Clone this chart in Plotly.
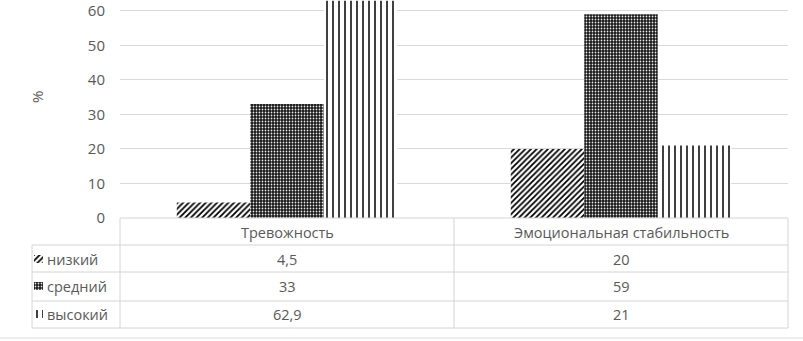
import plotly.graph_objects as go

categories = ["Тревожность", "Эмоциональная стабильность"]
series_names = ["низкий", "средний", "высокий"]
low_vals = [4.5, 20]
mid_vals = [33, 59]
high_vals = [62.9, 21]
value_labels = [["4,5", "20"], ["33", "59"], ["62,9", "21"]]
y_ticks = [0, 10, 20, 30, 40, 50, 60]

W, H = 803, 341
FONT = "Open Sans"
TXT = "#595959"
BORDER = "#d4d4d4"

def px(x):
    return x / W

def py(y):
    return (H - y) / H

patterns = [
    dict(shape="/", fgcolor="black", bgcolor="white", size=4, solidity=0.45, fillmode="replace"),
    dict(shape=".", fgcolor="#e8e8e8", bgcolor="#151515", size=3, solidity=0.28, fillmode="replace"),
    dict(shape="|", fgcolor="black", bgcolor="white", size=6, solidity=0.25, fillmode="replace"),
]
values = [low_vals, mid_vals, high_vals]

fig = go.Figure()
for name, vals, pat in zip(series_names, values, patterns):
    fig.add_trace(go.Bar(
        x=categories, y=vals, name=name,
        marker=dict(color="white", pattern=pat, line=dict(width=0)),
        showlegend=False,
    ))

# plot area in pixels
X0, X1, Y0, Y1 = 120, 788, 0, 218

layout = dict(
    width=W, height=H,
    margin=dict(l=0, r=0, t=0, b=0),
    paper_bgcolor="white", plot_bgcolor="white",
    barmode="group", bargap=0.34, bargroupgap=0,
    font=dict(family=FONT, color=TXT, size=14.5),
    xaxis=dict(domain=[px(X0), px(X1)], showticklabels=False, showgrid=False,
               zeroline=False, showline=False, ticks=""),
    yaxis=dict(domain=[py(Y1), py(Y0)], range=[0, 63.1], tickvals=y_ticks,
               showgrid=True, gridcolor="#d9d9d9", gridwidth=1, zeroline=False,
               showline=False, ticks="", ticklabelstandoff=14, ticklabeloverflow="allow",
               tickfont=dict(family=FONT, size=15, color=TXT), automargin=False),
)

# legend keys as tiny bars with same patterns
key_rows = [259, 286, 314]
for i, (pat, yc) in enumerate(zip(patterns, key_rows)):
    k = i + 2
    fig.add_trace(go.Bar(
        x=[0], y=[1], width=[1], xaxis=f"x{k}", yaxis=f"y{k}",
        marker=dict(color="white", pattern=pat, line=dict(width=0)),
        showlegend=False, hoverinfo="skip",
    ))
    layout[f"xaxis{k}"] = dict(domain=[px(34), px(43)], range=[-0.5, 0.5], visible=False,
                               fixedrange=True, anchor=f"y{k}")
    layout[f"yaxis{k}"] = dict(domain=[py(yc + 4), py(yc - 4)], range=[0, 1], visible=False,
                               fixedrange=True, anchor=f"x{k}")

fig.update_layout(**layout)

shapes = []
def hline(y, x0, x1, color=BORDER):
    shapes.append(dict(type="line", xref="paper", yref="paper", x0=px(x0), x1=px(x1),
                       y0=py(y), y1=py(y), line=dict(color=color, width=1)))
def vline(x, y0, y1):
    shapes.append(dict(type="line", xref="paper", yref="paper", x0=px(x), x1=px(x),
                       y0=py(y0), y1=py(y1), line=dict(color=BORDER, width=1)))

row_lines = [245, 272, 301, 328]
hline(218, X0, X1)
for y in row_lines:
    hline(y, 32, X1)
vline(32, 245, 328)
col_edges = [X0, (X0 + X1) / 2, X1]
for x in col_edges:
    vline(x, 218, 328)
hline(338, 0, W, color="#dcdcdc")

annotations = []
col_centers = [(col_edges[0] + col_edges[1]) / 2, (col_edges[1] + col_edges[2]) / 2]
for cat, xc in zip(categories, col_centers):
    annotations.append(dict(x=px(xc), y=py(232), xref="paper", yref="paper", text=cat,
                            showarrow=False, xanchor="center", yanchor="middle"))
for name, labels, yc in zip(series_names, value_labels, key_rows):
    annotations.append(dict(x=px(45), y=py(yc), xref="paper", yref="paper", text=name,
                            showarrow=False, xanchor="left", yanchor="middle"))
    for lab, xc in zip(labels, col_centers):
        annotations.append(dict(x=px(xc), y=py(yc), xref="paper", yref="paper", text=lab,
                                showarrow=False, xanchor="center", yanchor="middle"))
annotations.append(dict(x=px(37), y=py(97), xref="paper", yref="paper", text="%",
                        showarrow=False, textangle=-90, font=dict(size=15, color=TXT),
                        xanchor="center", yanchor="middle"))

fig.update_layout(shapes=shapes, annotations=annotations)
fig.write_html("out.html", config={"displayModeBar": False},
               post_script="document.body.style.margin='0';")
